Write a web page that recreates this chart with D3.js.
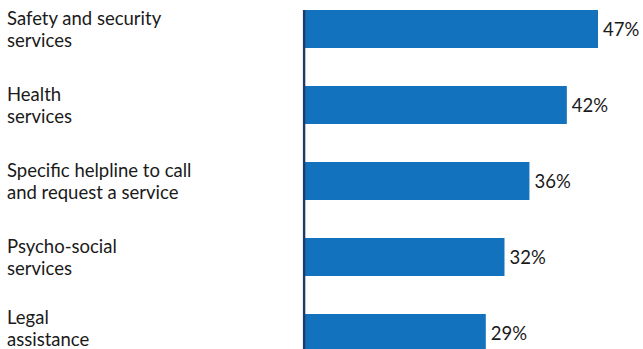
<!DOCTYPE html>
<html>
<head>
<meta charset="utf-8">
<script src="https://cdn.jsdelivr.net/npm/d3@7/dist/d3.min.js"></script>
<style>
  html, body { margin: 0; padding: 0; background: #fff; }
  svg { display: block; }
  text { font-family: Lato, "Open Sans", sans-serif; fill: #1a1a1a; }
</style>
</head>
<body>
<svg id="chart" width="643" height="349"></svg>
<script>
// Share of respondents per service type
const categories = [
  "Safety and security services",
  "Health services",
  "Specific helpline to call and request a service",
  "Psycho-social services",
  "Legal assistance"
];
// Each category label is drawn on two lines
const labelLines = [
  ["Safety and security", "services"],
  ["Health", "services"],
  ["Specific helpline to call", "and request a service"],
  ["Psycho-social", "services"],
  ["Legal", "assistance"]
];
const values = [47, 42, 36, 32, 29];

const W = 643, H = 349;
const fs = 18.5;
const svg = d3.select("#chart");

const x0 = 305;
const x = d3.scaleLinear().domain([0, 47]).range([x0, 598]);
const y = d3.scaleBand()
  .domain(categories)
  .range([-9, 371])
  .paddingInner(0.5)
  .paddingOuter(0.25);

// bars
svg.selectAll("rect.bar")
  .data(values)
  .join("rect")
  .attr("class", "bar")
  .attr("x", x(0))
  .attr("y", (d, i) => y(categories[i]))
  .attr("width", d => x(d) - x(0))
  .attr("height", y.bandwidth())
  .attr("fill", "#1272be");

// value labels
svg.selectAll("text.val")
  .data(values)
  .join("text")
  .attr("class", "val")
  .attr("x", d => x(d) + 5)
  .attr("y", (d, i) => y(categories[i]) + y.bandwidth() / 2)
  .attr("dy", "0.4em")
  .attr("font-size", fs)
  .text(d => d + "%");

// category labels, kept inside the bottom edge
const lh = 22;
svg.selectAll("text.cat")
  .data(categories)
  .join("text")
  .attr("class", "cat")
  .attr("x", 7)
  .attr("font-size", fs)
  .each(function(d, i) {
    const lines = labelLines[i];
    const cy = y(d) + y.bandwidth() / 2;
    let first = cy - (lines.length - 1) / 2 * lh + 0.38 * fs;
    const last = first + (lines.length - 1) * lh;
    const limit = H - 3;
    if (last > limit) first -= (last - limit);
    d3.select(this).selectAll("tspan")
      .data(lines)
      .join("tspan")
      .attr("x", 7)
      .attr("y", (l, j) => first + j * lh)
      .text(l => l);
  });

// vertical baseline axis
svg.append("line")
  .attr("x1", x(0) - 0.9).attr("x2", x(0) - 0.9)
  .attr("y1", y(categories[0])).attr("y2", H)
  .attr("stroke", "#1f3a64")
  .attr("stroke-width", 2.4);
</script>
</body>
</html>
